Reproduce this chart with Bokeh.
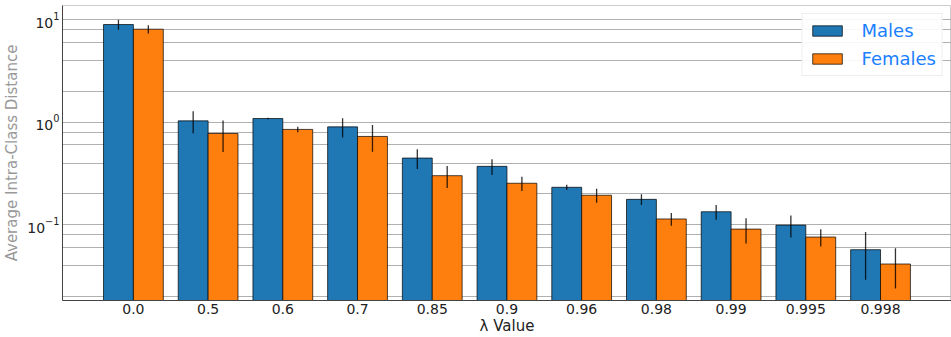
import numpy as np
from bokeh.plotting import figure
from bokeh.models import Range1d, FixedTicker, LogTicker, LogTickFormatter, Legend, LegendItem
from bokeh.embed import file_html
from bokeh.resources import INLINE

lambdas = ["0.0", "0.5", "0.6", "0.7", "0.85", "0.9", "0.96", "0.98", "0.99", "0.995", "0.998"]
males_mean = [8.94, 1.03, 1.085, 0.90, 0.447, 0.371, 0.232, 0.177, 0.134, 0.0993, 0.0572]
males_err = [1.0, 0.25, 0.02, 0.19, 0.097, 0.065, 0.014, 0.021, 0.022, 0.024, 0.028]
females_mean = [8.05, 0.776, 0.85, 0.726, 0.301, 0.254, 0.194, 0.114, 0.0908, 0.076, 0.0415]
females_err = [0.74, 0.265, 0.053, 0.21, 0.073, 0.04, 0.03, 0.016, 0.025, 0.0145, 0.0175]

x = np.arange(len(lambdas))
xm = x - 0.2
xf = x + 0.2
bottom = 1e-3

p = figure(width=951, height=337, y_axis_type="log",
           x_range=Range1d(-0.949, 10.95), y_range=Range1d(0.0183, 13.7),
           output_backend="svg", toolbar_location=None,
           min_border_left=61, min_border_right=0, min_border_top=5, min_border_bottom=0)

r1 = p.vbar(x=xm, top=males_mean, bottom=bottom, width=0.4,
            fill_color="#1f77b4", line_color="black", line_alpha=0.7, line_width=1)
r2 = p.vbar(x=xf, top=females_mean, bottom=bottom, width=0.4,
            fill_color="#ff7f0e", line_color="black", line_alpha=0.7, line_width=1)

m_lo = [m - e for m, e in zip(males_mean, males_err)]
m_hi = [m + e for m, e in zip(males_mean, males_err)]
f_lo = [m - e for m, e in zip(females_mean, females_err)]
f_hi = [m + e for m, e in zip(females_mean, females_err)]
p.segment(x0=xm, x1=xm, y0=m_lo, y1=m_hi, line_color="black", line_alpha=0.8, line_width=1.3)
p.segment(x0=xf, x1=xf, y0=f_lo, y1=f_hi, line_color="black", line_alpha=0.8, line_width=1.3)

# axes
p.xaxis.ticker = FixedTicker(ticks=list(x))
p.xaxis.major_label_overrides = {int(i): s for i, s in zip(x, lambdas)}
p.yaxis.ticker = LogTicker()
p.yaxis.formatter = LogTickFormatter()
for ax in (p.xaxis, p.yaxis):
    ax.major_tick_line_color = None
    ax.minor_tick_line_color = None
    ax.major_tick_out = 0
    ax.major_tick_in = 0
    ax.minor_tick_out = 0
    ax.minor_tick_in = 0
    ax.major_label_text_font = "DejaVu Sans"
    ax.major_label_text_font_size = "14px"
    ax.major_label_text_color = "#222222"
    ax.axis_label_text_font = "DejaVu Sans"
    ax.axis_label_text_font_style = "normal"
    ax.axis_line_color = "#444444"
p.xaxis.axis_label = "λ Value"
p.xaxis.axis_label_text_font_size = "15px"
p.xaxis.axis_label_text_color = "#222222"
p.xaxis.axis_label_standoff = 0
p.xaxis.major_label_standoff = 3
p.yaxis.axis_label = "Average Intra-Class Distance"
p.yaxis.axis_label_text_font_size = "15px"
p.yaxis.axis_label_text_color = "#999999"
p.yaxis.axis_label_standoff = 3
p.yaxis.major_label_standoff = 3

p.xgrid.grid_line_color = None
p.ygrid.grid_line_color = "#b0b0b0"
p.ygrid.minor_grid_line_color = "#b0b0b0"
p.outline_line_color = "#cccccc"

legend = Legend(items=[LegendItem(label="Males", renderers=[r1]),
                       LegendItem(label="Females", renderers=[r2])],
                location="top_right")
legend.label_text_font = "DejaVu Sans"
legend.label_text_font_size = "18px"
legend.label_text_color = "#1a80ff"
legend.glyph_width = 37
legend.glyph_height = 13
legend.label_standoff = 16
legend.label_height = 20
legend.spacing = 7
legend.padding = 6
legend.margin = 8
legend.border_line_color = "#dddddd"
legend.background_fill_alpha = 0.9
p.add_layout(legend)

open("out.html", "w").write(file_html(p, INLINE))
